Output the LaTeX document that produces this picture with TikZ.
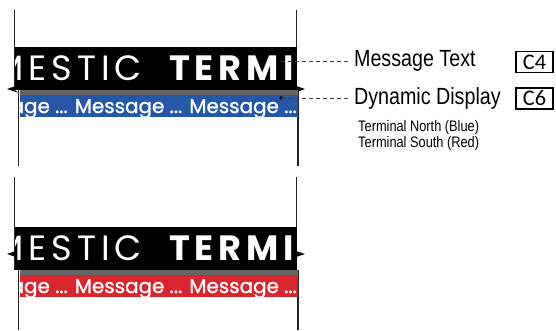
\documentclass[tikz,border=0pt]{standalone}
\usepackage{fontspec}
\setmainfont{Liberation Sans}
\newfontfamily\condfont[FakeStretch=0.84]{Liberation Sans}
\newfontfamily\signfont[LetterSpace=14]{Poppins}
\newfontfamily\msgfont[FakeBold=1.2]{Poppins}
\newfontfamily\boxfont{Carlito}
\usepackage{tikz}
\usetikzlibrary{arrows.meta, calc}

\definecolor{northblue}{HTML}{2457A8}
\definecolor{southred}{HTML}{D9262E}
\definecolor{stripgray}{HTML}{666666}
\definecolor{pillar}{HTML}{222222}

\begin{document}
\begin{tikzpicture}[x=0.03cm, y=-0.03cm]
  \useasboundingbox (0,0) rectangle (556,330);

  % ---------- Terminal North (top) ----------
  % Pillars
  \draw[line width=1.7pt, pillar] (14.5,10) -- (14.5,90);
  \draw[line width=1.7pt, pillar] (18.5,90) -- (18.5,166);
  \draw[line width=1.7pt, pillar] (296.5,10) -- (296.5,90);
  \draw[line width=1.7pt, pillar] (298,90) -- (298,166);

  % Width arrow (mostly hidden by the sign)
  \draw[{Stealth[length=9pt, width=6pt]}-{Stealth[length=9pt, width=6pt]}, line width=0.8pt] (7,89) -- (305,89);

  % Sign
  \fill[black] (15,47) rectangle (297,90);
  \begin{scope}
    \clip (15,47) rectangle (297,90);
    \node[anchor=base east, inner sep=0, text=white, font=\signfont\fontsize{30}{30}\selectfont] (signlightN) at (142,80) {DOMESTIC};
    \node[anchor=base west, inner sep=0, text=white, font=\signfont\bfseries\fontsize{30}{30}\selectfont] (signboldN) at (169,80) {TERMINAL};
  \end{scope}
  \fill[stripgray] (19.5,90) rectangle (298,95);
  \fill[northblue] (19.5,95) rectangle (298,117);
  \begin{scope}
    \clip (19.5,95) rectangle (298,117);
    \node[anchor=base east, inner sep=0, text=white, font=\msgfont\fontsize{17}{17}\selectfont] (dispN) at (297,113) {Message ... Message ... Message ...};
  \end{scope}

  % ---------- Terminal South (bottom) ----------
  % Pillars
  \draw[line width=1.7pt, pillar] (14.5,177) -- (14.5,270);
  \draw[line width=1.7pt, pillar] (18.5,270) -- (18.5,330);
  \draw[line width=1.7pt, pillar] (296.5,177) -- (296.5,270);
  \draw[line width=1.7pt, pillar] (298,270) -- (298,330);

  % Width arrow
  \draw[{Stealth[length=9pt, width=6pt]}-{Stealth[length=9pt, width=6pt]}, line width=0.8pt] (7,254) -- (305,254);

  % Sign
  \fill[black] (15,227) rectangle (297,270);
  \begin{scope}
    \clip (15,227) rectangle (297,270);
    \node[anchor=base east, inner sep=0, text=white, font=\signfont\fontsize{30}{30}\selectfont] (signlightS) at (142,260) {DOMESTIC};
    \node[anchor=base west, inner sep=0, text=white, font=\signfont\bfseries\fontsize{30}{30}\selectfont] (signboldS) at (169,260) {TERMINAL};
  \end{scope}
  \fill[stripgray] (19.5,270) rectangle (298,275);
  \fill[southred] (19.5,275) rectangle (298,297);
  \begin{scope}
    \clip (19.5,275) rectangle (298,297);
    \node[anchor=base east, inner sep=0, text=white, font=\msgfont\fontsize{17}{17}\selectfont] (dispS) at (297,293) {Message ... Message ... Message ...};
  \end{scope}

  % ---------- Callouts ----------
  \coordinate (msgdot) at (281,61);
  \coordinate (dispdot) at (281,98);
  \fill (msgdot) circle (1.5pt);
  \fill (dispdot) circle (1.5pt);

  \node[anchor=west, font=\condfont\fontsize{20}{20}\selectfont] (msglabel) at (350,61) {Message Text};
  \node[anchor=west, font=\condfont\fontsize{20}{20}\selectfont] (displabel) at (350,98) {Dynamic Display};
  \draw[dash pattern=on 3.5pt off 2.5pt, line width=0.7pt, black!75] (msgdot) -- (msglabel.west);
  \draw[dash pattern=on 3.5pt off 2.5pt, line width=0.7pt, black!75] (dispdot) -- (displabel.west);

  \node[anchor=base west, inner sep=0, font=\condfont\fontsize{13}{13}\selectfont] (northnote) at (358,131) {Terminal North (Blue)};
  \node[anchor=base west, inner sep=0, font=\condfont\fontsize{13}{13}\selectfont] (southnote) at (358,147) {Terminal South (Red)};

  % Code boxes
  \node[draw, line width=1pt, minimum width=31.5pt, minimum height=18.5pt, inner sep=0, font=\boxfont\fontsize{19}{19}\selectfont] (boxC4) at (534.5,62) {C4};
  \node[draw, line width=1pt, minimum width=31.5pt, minimum height=18pt, inner sep=0, font=\boxfont\fontsize{19}{19}\selectfont] (boxC6) at (534.5,98.5) {C6};
\end{tikzpicture}
\end{document}
